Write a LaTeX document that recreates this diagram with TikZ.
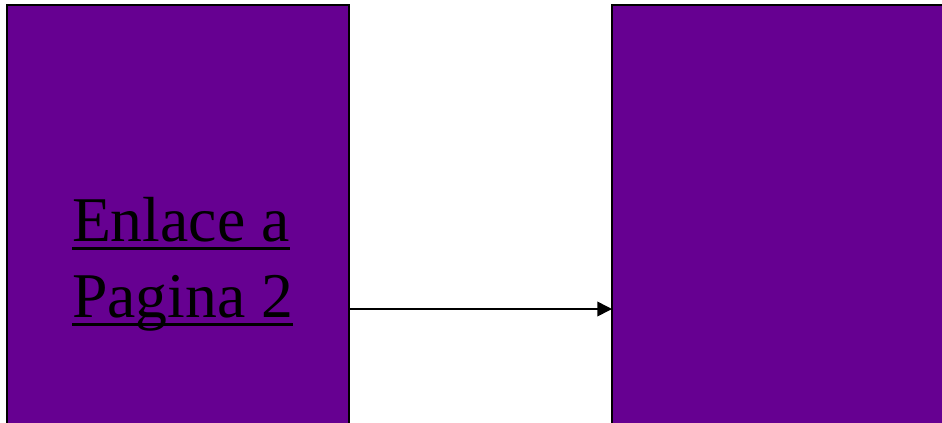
\documentclass[tikz,border=0pt]{standalone}
\usepackage{fontspec}
\setmainfont{Liberation Serif}
\usetikzlibrary{arrows.meta}
\definecolor{boxpurple}{RGB}{102,0,145}
\tikzset{
  purplebox/.style={draw=black, line width=1.5pt, fill=boxpurple, anchor=north west, inner sep=0pt, outer sep=0pt},
  linktext/.style={anchor=base west, inner sep=0pt, outer sep=0pt, text=black, font=\fontsize{47.8}{57}\selectfont},
  underl/.style={draw=black, line width=2.25pt},
  connector/.style={draw=black, line width=1.2pt, -{Triangle[length=11pt,width=11pt]}}
}
\begin{document}
\begin{tikzpicture}[x=0.75pt,y=-0.75pt]
\useasboundingbox (0,0) rectangle (942,422);
\clip (0,0) rectangle (942,422);
\node[purplebox, minimum width=256.5pt, minimum height=337.5pt] (L) at (7,5) {};
\node[purplebox, minimum width=270pt, minimum height=337.5pt] (R) at (612,5) {};
\node[linktext] (t1) at (72,241) {Enlace a};
\node[linktext] (t2) at (72,317) {Pagina 2};
\draw[underl] ([yshift=-5.6pt]t1.base west) -- ([yshift=-5.6pt]t1.base east);
\draw[underl] ([yshift=-5.6pt]t2.base west) -- ([yshift=-5.6pt]t2.base east);
\coordinate (ay) at (0,309);
\draw[connector] (L.east |- ay) -- (R.west |- ay);
\end{tikzpicture}
\end{document}
